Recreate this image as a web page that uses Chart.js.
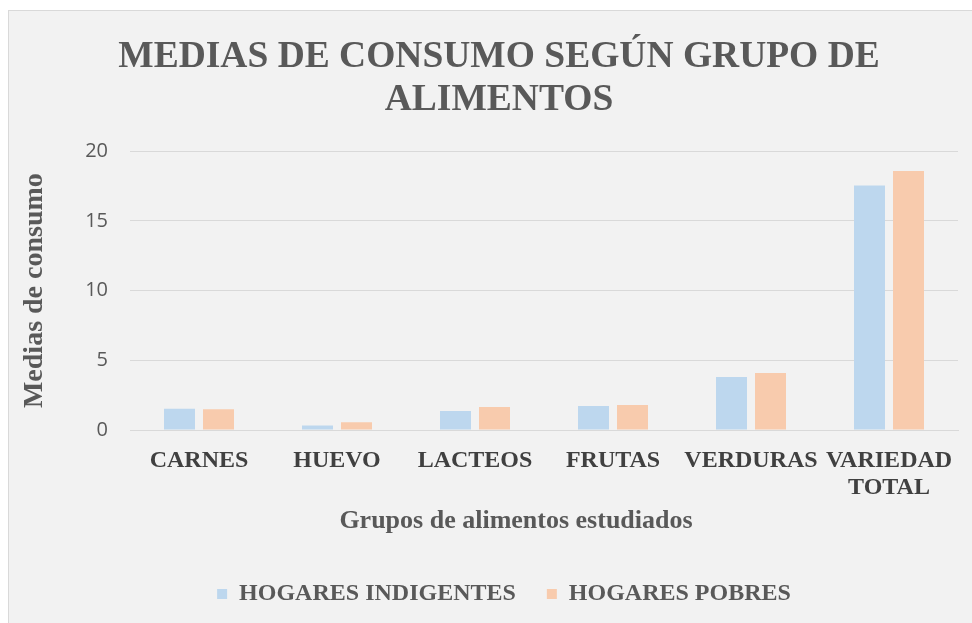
<!DOCTYPE html>
<html>
<head>
<meta charset="utf-8">
<script src="https://cdn.jsdelivr.net/npm/chart.js@4.4.0/dist/chart.umd.min.js"></script>
<style>
  html, body { margin: 0; padding: 0; background: #ffffff; }
  #frame {
    position: absolute; left: 8px; top: 10px;
    width: 964px; height: 613px;
    background: #f2f2f2;
    border-left: 1px solid #d9d9d9; border-top: 1px solid #d9d9d9;
    box-sizing: border-box;
  }
  #wrap { position: absolute; left: 1px; top: 1px; width: 963px; height: 612px; }
</style>
</head>
<body>
<div id="frame"><div id="wrap"><canvas id="c" width="963" height="612"></canvas></div></div>
<script>
const categories = ["CARNES", "HUEVO", "LACTEOS", "FRUTAS", "VERDURAS", ["VARIEDAD", "TOTAL"]];
const hogaresIndigentes = [1.53, 0.33, 1.36, 1.72, 3.80, 17.54];
const hogaresPobres = [1.48, 0.55, 1.65, 1.79, 4.09, 18.59];
const yTicks = [0, 5, 10, 15, 20];
const xTitle = 'Grupos de alimentos estudiados';

const textColor = '#595959';
const serif = "'Liberation Serif', 'Times New Roman', serif";

const layoutTweaks = {
  id: 'layoutTweaks',
  afterLayout(chart) {
    const t = chart.titleBlock;
    if (t) { t.left += 15; t.right += 15; }
    const l = chart.legend;
    if (l) { l.left += 20; l.right += 20; }
  },
  afterDraw(chart) {
    const ctx = chart.ctx;
    const x = chart.scales.x;
    ctx.save();
    ctx.font = 'bold 26px ' + serif;
    ctx.fillStyle = textColor;
    ctx.textAlign = 'center';
    ctx.textBaseline = 'middle';
    ctx.fillText(xTitle, (x.left + x.right) / 2 - 28, x.bottom - 30);
    ctx.restore();
  }
};

new Chart(document.getElementById('c'), {
  type: 'bar',
  data: {
    labels: categories,
    datasets: [
      { label: 'HOGARES INDIGENTES', data: hogaresIndigentes, backgroundColor: '#bdd7ee',
        categoryPercentage: 0.565, barPercentage: 0.795 },
      { label: 'HOGARES POBRES', data: hogaresPobres, backgroundColor: '#f8cbad',
        categoryPercentage: 0.565, barPercentage: 0.795 }
    ]
  },
  plugins: [layoutTweaks],
  options: {
    responsive: false,
    animation: false,
    devicePixelRatio: 1,
    layout: { padding: { left: 0, right: 15, top: 0, bottom: 8 } },
    plugins: {
      title: {
        display: true,
        text: ['MEDIAS DE CONSUMO SEGÚN GRUPO DE', 'ALIMENTOS'],
        color: textColor,
        font: { family: serif, size: 37.5, weight: 'bold', lineHeight: 1.15 },
        padding: { top: 24, bottom: 29 }
      },
      legend: {
        display: true,
        position: 'bottom',
        labels: {
          color: textColor,
          font: { family: serif, size: 24, weight: 'bold' },
          boxWidth: 10, boxHeight: 10,
          padding: 31
        }
      },
      tooltip: { enabled: false }
    },
    scales: {
      x: {
        grid: { display: false, drawTicks: false },
        border: { display: true, color: '#d9d9d9', width: 1 },
        ticks: {
          color: '#404040',
          font: { family: serif, size: 24, weight: 'bold', lineHeight: 1.13 },
          padding: 17,
          maxRotation: 0, autoSkip: false
        },
        title: { display: false },
        afterFit: (s) => { s.height = 121; }
      },
      y: {
        min: 0, max: 20,
        afterBuildTicks: (s) => { s.ticks = yTicks.map(v => ({ value: v })); },
        grid: { color: '#d9d9d9', lineWidth: 1, drawTicks: false },
        border: { display: false },
        ticks: {
          color: textColor,
          font: { family: "'Open Sans', 'Liberation Sans', sans-serif", size: 20 },
          padding: 22
        },
        title: {
          display: true,
          text: 'Medias de consumo',
          color: textColor,
          font: { family: serif, size: 28, weight: 'bold' },
          padding: { top: 8, bottom: 0 }
        },
        afterFit: (s) => { s.width = 120; }
      }
    }
  }
});
</script>
</body>
</html>
